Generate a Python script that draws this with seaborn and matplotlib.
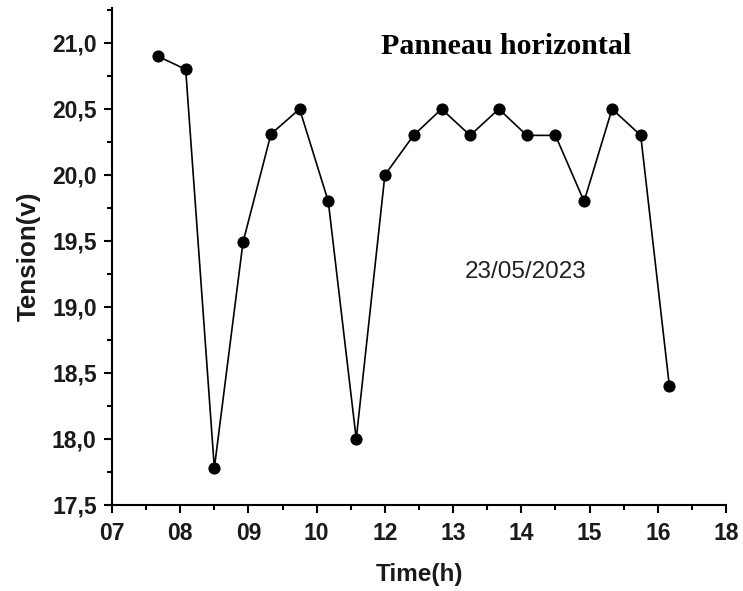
import matplotlib
matplotlib.use("Agg")
import matplotlib.pyplot as plt
from matplotlib.ticker import MultipleLocator, FixedLocator
import seaborn as sns
import pandas as pd

# Measurement times (decimal hours) and panel voltage
time_h = [7.67, 8.08, 8.50, 8.92, 9.33, 9.75, 10.17, 10.58, 11.00, 11.42,
          11.83, 12.25, 12.67, 13.08, 13.50, 13.92, 14.33, 14.75, 15.17]
tension_v = [20.9, 20.8, 17.78, 19.49, 20.31, 20.5, 19.8, 18.0, 20.0, 20.3,
             20.5, 20.3, 20.5, 20.3, 20.3, 19.8, 20.5, 20.3, 18.4]

x_tick_pos = [7, 8, 9, 10, 11, 12, 13, 14, 15, 16]
x_tick_labels = ["07", "08", "09", "10", "12", "13", "14", "15", "16", "18"]
y_tick_pos = [17.5, 18.0, 18.5, 19.0, 19.5, 20.0, 20.5, 21.0]
y_tick_labels = ["17,5", "18,0", "18,5", "19,0", "19,5", "20,0", "20,5", "21,0"]

df = pd.DataFrame({"Time": time_h, "Tension": tension_v})

sns.set_style("ticks")
plt.rcParams["font.family"] = ["Liberation Sans", "DejaVu Sans"]

fig = plt.figure(figsize=(7.43, 5.91), dpi=100)
ax = fig.add_axes([112 / 743, 1 - 505 / 591, (726 - 112) / 743, (505 - 8) / 591])

sns.lineplot(data=df, x="Time", y="Tension", ax=ax, color="black",
             linewidth=1.2, marker="o", markersize=8,
             markeredgecolor="black", markerfacecolor="black")

ax.set_xlim(7, 16)
ax.set_ylim(17.5, 21.265)

ax.xaxis.set_major_locator(FixedLocator(x_tick_pos))
ax.set_xticklabels(x_tick_labels)
ax.xaxis.set_minor_locator(MultipleLocator(0.5))
ax.yaxis.set_major_locator(FixedLocator(y_tick_pos))
ax.set_yticklabels(y_tick_labels)
ax.yaxis.set_minor_locator(MultipleLocator(0.25))

for side in ("top", "right"):
    ax.spines[side].set_visible(False)
for side in ("left", "bottom"):
    ax.spines[side].set_linewidth(1.5)
    ax.spines[side].set_color("black")

ax.tick_params(which="major", direction="out", length=6, width=1.5,
               colors="black", labelsize=16.5, labelcolor="#1a1a1a")
ax.tick_params(axis="y", which="major", pad=5)
ax.tick_params(axis="x", which="major", pad=6)
ax.tick_params(which="minor", direction="out", length=3.5, width=1.5,
               colors="black")
for lbl in ax.get_xticklabels() + ax.get_yticklabels():
    lbl.set_fontweight("bold")

ax.set_xlabel("Time(h)", fontsize=17.5, fontweight="bold", color="#1a1a1a",
              labelpad=13)
ax.set_ylabel("Tension(v)", fontsize=18.7, fontweight="bold", color="#1a1a1a",
              labelpad=8)

fig.text(506 / 743, 1 - 47 / 591, "Panneau horizontal", fontsize=21.5,
         fontweight="bold", family=["Liberation Serif", "DejaVu Serif"],
         ha="center", va="center", color="black")
fig.text(526 / 743, 1 - 272 / 591, "23/05/2023", fontsize=17.5,
         color="#222222", ha="center", va="center")

fig.savefig("out.png", dpi=100)
